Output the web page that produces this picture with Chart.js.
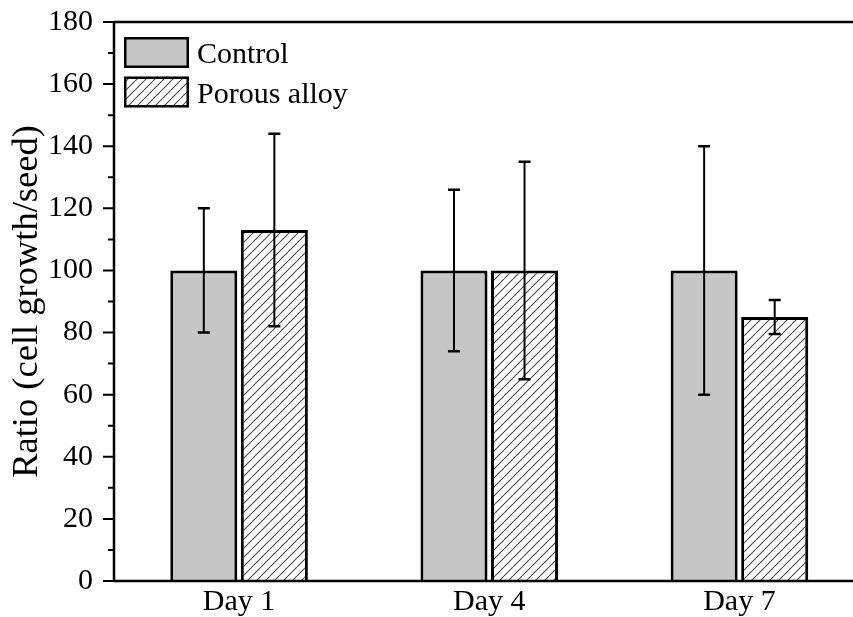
<!DOCTYPE html>
<html>
<head>
<meta charset="utf-8">
<script src="https://cdn.jsdelivr.net/npm/chart.js@4/dist/chart.umd.min.js"></script>
<style>
  html, body { margin: 0; padding: 0; background: #fff; overflow: hidden; }
  #wrap { width: 880px; height: 617px; }
</style>
</head>
<body>
<div id="wrap"><canvas id="chart" width="880" height="617"></canvas></div>
<script>
// Cell growth ratio per day, mean and standard deviation
const categories = ['Day 1', 'Day 4', 'Day 7'];
const controlMean = [100, 100, 100];
const controlErr = [20, 26, 40];
const porousMean = [113, 100, 85];
const porousErr = [31, 35, 5.5];
const seriesNames = ['Control', 'Porous alloy'];
const yTicksMajor = [0, 20, 40, 60, 80, 100, 120, 140, 160, 180];

const FONT = '"Liberation Serif", "Times New Roman", serif';

// diagonal hatch fill
function makeHatch() {
  const s = 9;
  const c = document.createElement('canvas');
  c.width = s; c.height = s;
  const g = c.getContext('2d');
  g.fillStyle = '#ffffff';
  g.fillRect(0, 0, s, s);
  g.strokeStyle = '#4a4a4a';
  g.lineWidth = 1.1;
  g.beginPath();
  for (const x of [-s, 0, s]) {
    g.moveTo(x, s);
    g.lineTo(x + s, 0);
  }
  g.stroke();
  return g.createPattern(c, 'repeat');
}
const hatch = makeHatch();
const grayFill = '#c6c6c6';

const errorSets = [controlErr, porousErr];

// error bars drawn over the bars
const errorBars = {
  id: 'errorBars',
  afterDatasetsDraw(chart) {
    const ctx = chart.ctx;
    const y = chart.scales.y;
    ctx.save();
    ctx.strokeStyle = '#000';
    chart.data.datasets.forEach((ds, di) => {
      const meta = chart.getDatasetMeta(di);
      meta.data.forEach((bar, i) => {
        const v = ds.data[i];
        const e = errorSets[di][i];
        const yTop = y.getPixelForValue(v + e);
        const yBot = y.getPixelForValue(v - e);
        const x = bar.x;
        ctx.lineWidth = 2;
        ctx.beginPath();
        ctx.moveTo(x, yTop);
        ctx.lineTo(x, yBot);
        ctx.stroke();
        ctx.lineWidth = 2.5;
        ctx.beginPath();
        ctx.moveTo(x - 6, yTop); ctx.lineTo(x + 6, yTop);
        ctx.moveTo(x - 6, yBot); ctx.lineTo(x + 6, yBot);
        ctx.stroke();
      });
    });
    ctx.restore();
  }
};

// frame, tick marks and legend
const frame = {
  id: 'frame',
  afterDraw(chart) {
    const ctx = chart.ctx;
    const a = chart.chartArea;
    const y = chart.scales.y;
    ctx.save();
    ctx.strokeStyle = '#000';
    ctx.lineWidth = 2.5;
    ctx.beginPath();
    ctx.moveTo(a.left, a.top);
    ctx.lineTo(a.left, a.bottom);
    ctx.moveTo(a.left, a.bottom);
    ctx.lineTo(a.right, a.bottom);
    ctx.moveTo(a.left, a.top);
    ctx.lineTo(a.right, a.top);
    ctx.lineTo(a.right, a.bottom);
    ctx.stroke();

    // major and minor ticks, pointing outward
    ctx.lineWidth = 2;
    ctx.beginPath();
    for (let v = y.min; v <= y.max; v += 10) {
      const py = y.getPixelForValue(v);
      const len = (v % 20 === 0) ? 11 : 6;
      ctx.moveTo(a.left - len, py);
      ctx.lineTo(a.left, py);
    }
    ctx.stroke();

    // legend
    const fills = [grayFill, hatch];
    const boxX = 124, boxW = 65, boxH = 31;
    const boxTops = [37, 76.5];
    ctx.font = '30px ' + FONT;
    ctx.textBaseline = 'alphabetic';
    ctx.textAlign = 'left';
    chart.data.datasets.forEach((ds, i) => {
      const top = boxTops[i];
      ctx.fillStyle = fills[i];
      ctx.fillRect(boxX, top, boxW, boxH);
      ctx.lineWidth = 2.5;
      ctx.strokeStyle = '#000';
      ctx.strokeRect(boxX + 1.25, top + 1.25, boxW - 2.5, boxH - 2.5);
      ctx.fillStyle = '#000';
      ctx.fillText(ds.label, 197, top + boxH / 2 + 10.5);
    });
    ctx.restore();
  }
};

new Chart(document.getElementById('chart'), {
  type: 'bar',
  data: {
    labels: categories,
    datasets: [
      {
        label: seriesNames[0],
        data: controlMean,
        backgroundColor: grayFill,
        borderColor: '#000',
        borderWidth: 3,
        categoryPercentage: 0.564,
        barPercentage: 0.95
      },
      {
        label: seriesNames[1],
        data: porousMean,
        backgroundColor: hatch,
        borderColor: '#000',
        borderWidth: 3,
        categoryPercentage: 0.564,
        barPercentage: 0.95
      }
    ]
  },
  options: {
    responsive: false,
    animation: false,
    devicePixelRatio: 1,
    layout: { padding: { top: 22, right: 15.5, bottom: 0, left: 0 } },
    plugins: {
      legend: { display: false },
      tooltip: { enabled: false }
    },
    scales: {
      x: {
        grid: { display: false, drawTicks: false },
        border: { display: false },
        ticks: { color: '#000', font: { family: FONT, size: 30 }, padding: 3, maxRotation: 0 },
        afterFit(scale) { scale.height = 36; scale.paddingLeft = 0; scale.paddingRight = 0; }
      },
      y: {
        min: 0,
        max: 180,
        grid: { display: false, drawTicks: false },
        border: { display: false },
        afterBuildTicks(scale) { scale.ticks = yTicksMajor.map(v => ({ value: v })); },
        ticks: { color: '#000', font: { family: FONT, size: 30 }, padding: 21 },
        title: {
          display: true,
          text: 'Ratio (cell growth/seed)',
          color: '#000',
          font: { family: FONT, size: 36.5 },
          padding: { top: 6, bottom: 0 }
        },
        afterFit(scale) { scale.width = 114; scale.paddingTop = 0; scale.paddingBottom = 0; }
      }
    }
  },
  plugins: [errorBars, frame]
});
</script>
</body>
</html>
